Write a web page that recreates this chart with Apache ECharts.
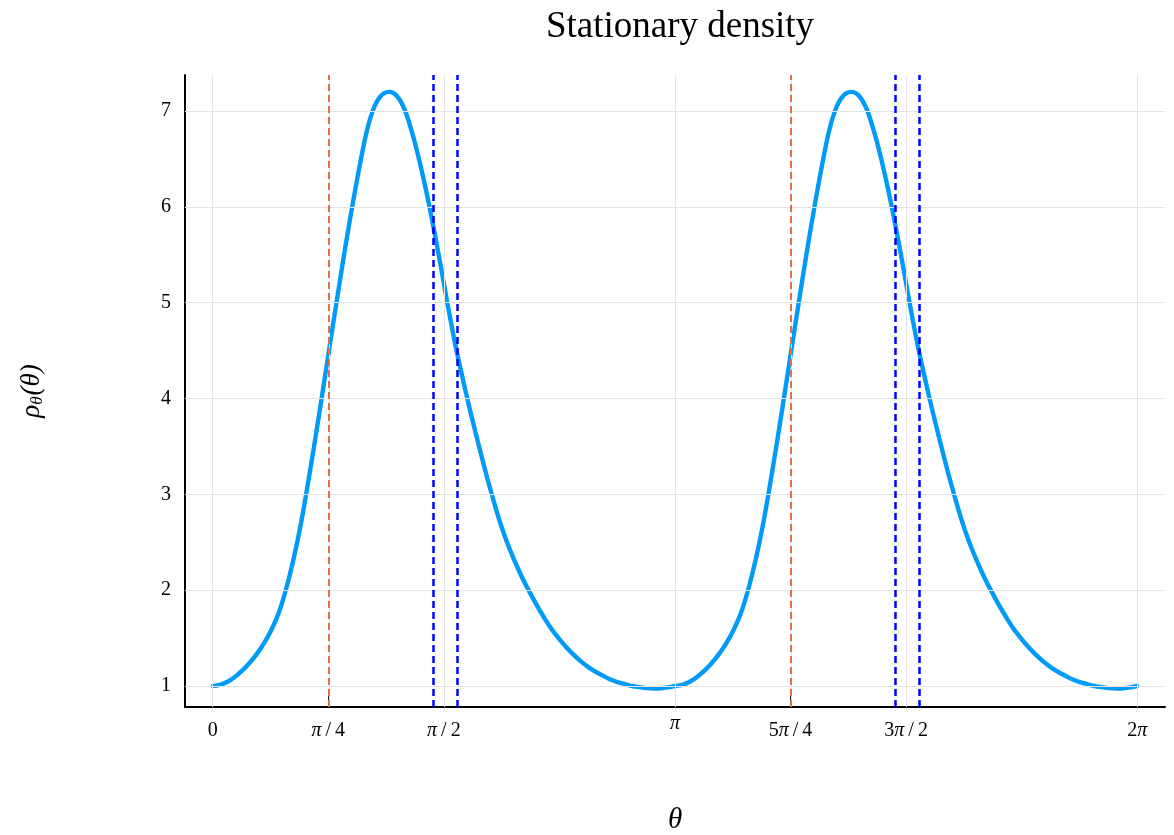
<!DOCTYPE html>
<html>
<head>
<meta charset="utf-8">
<title>Stationary density</title>
<script src="https://cdn.jsdelivr.net/npm/echarts@6/dist/echarts.min.js"></script>
<style>
  html, body { margin: 0; padding: 0; background: #ffffff; }
  #chart { width: 1174px; height: 835px; }
</style>
</head>
<body>
<div id="chart"></div>
<script>
// angle samples (radians) over [0, 2π]
const theta = [
  0.00, 0.05, 0.10, 0.15, 0.20, 0.25, 0.30, 0.35, 0.40, 0.45,
  0.50, 0.55, 0.60, 0.65, 0.70, 0.75, 0.80, 0.85, 0.90, 0.95,
  1.00, 1.05, 1.10, 1.15, 1.20, 1.25, 1.30, 1.35, 1.40, 1.45,
  1.50, 1.55, 1.60, 1.65, 1.70, 1.75, 1.80, 1.85, 1.90, 1.95,
  2.00, 2.05, 2.10, 2.15, 2.20, 2.25, 2.30, 2.35, 2.40, 2.45,
  2.50, 2.55, 2.60, 2.65, 2.70, 2.75, 2.80, 2.85, 2.90, 2.95,
  3.00, 3.05, 3.10, 3.1416,
  3.1916, 3.2416, 3.2916, 3.3416, 3.3916, 3.4416, 3.4916, 3.5416, 3.5916,
  3.6416, 3.6916, 3.7416, 3.7916, 3.8416, 3.8916, 3.9416, 3.9916, 4.0416, 4.0916,
  4.1416, 4.1916, 4.2416, 4.2916, 4.3416, 4.3916, 4.4416, 4.4916, 4.5416, 4.5916,
  4.6416, 4.6916, 4.7416, 4.7916, 4.8416, 4.8916, 4.9416, 4.9916, 5.0416, 5.0916,
  5.1416, 5.1916, 5.2416, 5.2916, 5.3416, 5.3916, 5.4416, 5.4916, 5.5416, 5.5916,
  5.6416, 5.6916, 5.7416, 5.7916, 5.8416, 5.8916, 5.9416, 5.9916, 6.0416, 6.0916,
  6.1416, 6.1916, 6.2416, 6.2832
];

// stationary density ρθ(θ) at each sample
const rho = [
  1.000, 1.012, 1.045, 1.095, 1.160, 1.240, 1.335, 1.450, 1.590, 1.770,
  2.020, 2.330, 2.700, 3.140, 3.610, 4.100, 4.600, 5.090, 5.570, 6.020,
  6.440, 6.810, 7.050, 7.170, 7.200, 7.160, 7.030, 6.800, 6.510, 6.170,
  5.790, 5.380, 4.950, 4.550, 4.200, 3.870, 3.560, 3.260, 2.980, 2.720,
  2.500, 2.310, 2.140, 1.990, 1.850, 1.720, 1.600, 1.500, 1.410, 1.330,
  1.260, 1.200, 1.150, 1.110, 1.070, 1.040, 1.020, 1.000, 0.988, 0.978,
  0.974, 0.976, 0.987, 1.000,
  1.012, 1.045, 1.095, 1.160, 1.240, 1.335, 1.450, 1.590, 1.770,
  2.020, 2.330, 2.700, 3.140, 3.610, 4.100, 4.600, 5.090, 5.570, 6.020,
  6.440, 6.810, 7.050, 7.170, 7.200, 7.160, 7.030, 6.800, 6.510, 6.170,
  5.790, 5.380, 4.950, 4.550, 4.200, 3.870, 3.560, 3.260, 2.980, 2.720,
  2.500, 2.310, 2.140, 1.990, 1.850, 1.720, 1.600, 1.500, 1.410, 1.330,
  1.260, 1.200, 1.150, 1.110, 1.070, 1.040, 1.020, 1.000, 0.988, 0.978,
  0.974, 0.976, 0.987, 1.000
];

// reference angles
const redLines = [0.7854, 3.9270];
const blueLines = [1.495, 1.655, 4.637, 4.797];

// ticks (labels use rich-text fragments: r = roman, p = italic π)
const xTickValues = [0, 0.7854, 1.5708, 3.1416, 3.9270, 4.7124, 6.2832];
const xTickLabels = [
  '{r|0}',
  '{p|π}{r|\u2009/\u20094}',
  '{p|π}{r|\u2009/\u20092}',
  '{pi|π}',
  '{r|5}{p|π}{r|\u2009/\u20094}',
  '{r|3}{p|π}{r|\u2009/\u20092}',
  '{r|2}{p|π}'
];
const yTickValues = [1, 2, 3, 4, 5, 6, 7];

const X_MIN = -0.1885, X_MAX = 6.4717;
const Y_MIN = 0.781, Y_MAX = 7.376;

const serif = '"Liberation Serif", "DejaVu Serif", serif';
const chart = echarts.init(document.getElementById('chart'));

function labelFor(v) {
  let best = 0;
  for (let i = 1; i < xTickValues.length; i++) {
    if (Math.abs(xTickValues[i] - v) < Math.abs(xTickValues[best] - v)) best = i;
  }
  return xTickLabels[best];
}

const gridStyle = { color: '#e3e3e3', width: 1, type: 'solid' };

chart.setOption({
  animation: false,
  backgroundColor: '#ffffff',
  title: {
    text: 'Stationary density',
    left: 675,
    top: 4,
    textAlign: 'center',
    textStyle: { fontFamily: serif, fontWeight: 'normal', fontSize: 37, color: '#000' }
  },
  grid: { left: 185, right: 9, top: 75, bottom: 128, containLabel: false, outerBoundsMode: 'none' },
  xAxis: {
    type: 'value',
    min: X_MIN,
    max: X_MAX,
    name: 'θ',
    nameLocation: 'middle',
    nameGap: 99,
    nameTextStyle: { fontFamily: serif, fontStyle: 'italic', fontSize: 29, color: '#000' },
    axisLine: { show: true, onZero: false, lineStyle: { color: '#000', width: 2 } },
    axisTick: { show: true, inside: true, length: 11, customValues: xTickValues, lineStyle: { color: '#222', width: 1 } },
    axisLabel: {
      customValues: xTickValues,
      margin: 13,
      formatter: labelFor,
      rich: {
        r: { fontFamily: serif, fontSize: 20, color: '#000', lineHeight: 22 },
        p: { fontFamily: serif, fontStyle: 'italic', fontSize: 20, color: '#000', lineHeight: 22 },
        pi: { fontFamily: serif, fontStyle: 'italic', fontSize: 20, color: '#000', lineHeight: 22, padding: [0, 0, 14, 0] }
      }
    },
    splitLine: { show: false }
  },
  yAxis: {
    type: 'value',
    min: Y_MIN,
    max: Y_MAX,
    name: '{i|ρ}{s|θ}{i|(θ)}',
    nameLocation: 'middle',
    nameGap: 139,
    nameRotate: 90,
    nameTextStyle: {
      rich: {
        i: { fontFamily: serif, fontStyle: 'italic', fontSize: 27, color: '#000', verticalAlign: 'middle' },
        s: { fontFamily: serif, fontStyle: 'italic', fontSize: 17, color: '#000', padding: [12, 1, 0, 0] }
      }
    },
    axisLine: { show: true, onZero: false, lineStyle: { color: '#000', width: 2 } },
    axisTick: { show: true, inside: true, length: 11, customValues: yTickValues, lineStyle: { color: '#000', width: 1 } },
    axisLabel: {
      customValues: yTickValues,
      margin: 14,
      fontFamily: serif,
      fontSize: 20,
      color: '#000',
      formatter: v => String(Math.round(v))
    },
    splitLine: { show: false }
  },
  series: [
    {
      // background grid
      type: 'line',
      data: [],
      silent: true,
      z: 1,
      markLine: {
        silent: true,
        symbol: 'none',
        label: { show: false },
        lineStyle: gridStyle,
        data: xTickValues.map(v => ({ xAxis: v })).concat(yTickValues.map(v => ({ yAxis: v })))
      }
    },
    {
      name: 'density',
      type: 'line',
      data: theta.map((t, i) => [t, rho[i]]),
      showSymbol: false,
      smooth: 0.35,
      z: 3,
      lineStyle: { color: '#009AF9', width: 4.4, cap: 'round', join: 'round' }
    },
    {
      type: 'line',
      data: [],
      silent: true,
      z: 4,
      markLine: {
        silent: true,
        symbol: 'none',
        label: { show: false },
        lineStyle: { color: '#E26F46', width: 2, type: [7, 4] },
        data: redLines.map(v => ({ xAxis: v }))
      }
    },
    {
      type: 'line',
      data: [],
      silent: true,
      z: 4,
      markLine: {
        silent: true,
        symbol: 'none',
        label: { show: false },
        lineStyle: { color: '#0000FF', width: 2.5, type: [7, 4] },
        data: blueLines.map(v => ({ xAxis: v }))
      }
    }
  ]
});
</script>
</body>
</html>
